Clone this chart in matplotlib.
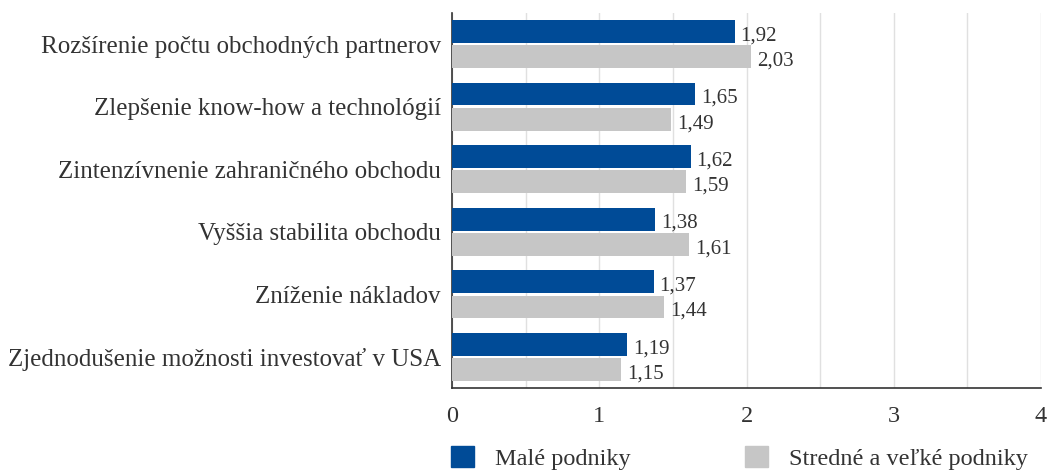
import numpy as np
import matplotlib.pyplot as plt
from matplotlib.patches import Patch

plt.rcParams['font.family'] = ['Liberation Serif', 'DejaVu Serif']

categories = ["Rozšírenie počtu obchodných partnerov",
              "Zlepšenie know-how a technológií",
              "Zintenzívnenie zahraničného obchodu",
              "Vyššia stabilita obchodu",
              "Zníženie nákladov",
              "Zjednodušenie možnosti investovať v USA"]
male = [1.92, 1.65, 1.62, 1.38, 1.37, 1.19]
stredne = [2.03, 1.49, 1.59, 1.61, 1.44, 1.15]
series_names = ["Malé podniky", "Stredné a veľké podniky"]

blue = '#004B97'
grey = '#C6C6C6'
txt = '#333333'

fig = plt.figure(figsize=(10.47, 4.71), dpi=100)
ax = fig.add_axes([0.4317, 0.1756, 0.5626, 0.7974])

y = np.arange(len(categories))
h = 0.363
b1 = ax.barh(y - 0.202, male, height=h, color=blue, zorder=3)
b2 = ax.barh(y + 0.202, stredne, height=h, color=grey, zorder=3)

# popisky hodnot s desatinnou ciarkou
for bars, vals in [(b1, male), (b2, stredne)]:
    for bar, v in zip(bars, vals):
        ax.text(v + 0.04, bar.get_y() + bar.get_height() / 2 + 0.07,
                f"{v:.2f}".replace('.', ','), va='center', ha='left',
                fontsize=15, color=txt, zorder=4)

ax.set_ylim(len(categories) - 0.5, -0.5)
ax.set_xlim(0, 4)
ax.set_yticks(y)
ax.set_yticklabels(categories, fontsize=18, color=txt)
ax.set_xticks([0, 1, 2, 3, 4])
ax.set_xticklabels(['0', '1', '2', '3', '4'], fontsize=17.5, color=txt)
ax.set_xticks(np.arange(0.5, 4, 1), minor=True)
ax.tick_params(axis='both', which='both', length=0)
ax.tick_params(axis='x', pad=13)
ax.tick_params(axis='y', pad=8)
ax.grid(axis='x', which='both', color='#E0E0E0', linewidth=1, zorder=0)

for s in ['top', 'right']:
    ax.spines[s].set_visible(False)
ax.spines['left'].set_color(txt)
ax.spines['bottom'].set_color(txt)
ax.spines['left'].set_linewidth(1.2)
ax.spines['bottom'].set_linewidth(1.2)

# legenda - dve samostatne polozky
for col, name, x0 in [(blue, series_names[0], 451 / 1047), (grey, series_names[1], 745 / 1047)]:
    fig.legend([Patch(color=col)], [name], loc='center left', bbox_to_anchor=(x0, 1 - 458 / 471),
               frameon=False, fontsize=17.5, handlelength=0.95, handleheight=0.95,
               handletextpad=0.85, borderpad=0, borderaxespad=0, labelcolor=txt)

fig.savefig('out.png', dpi=100)
